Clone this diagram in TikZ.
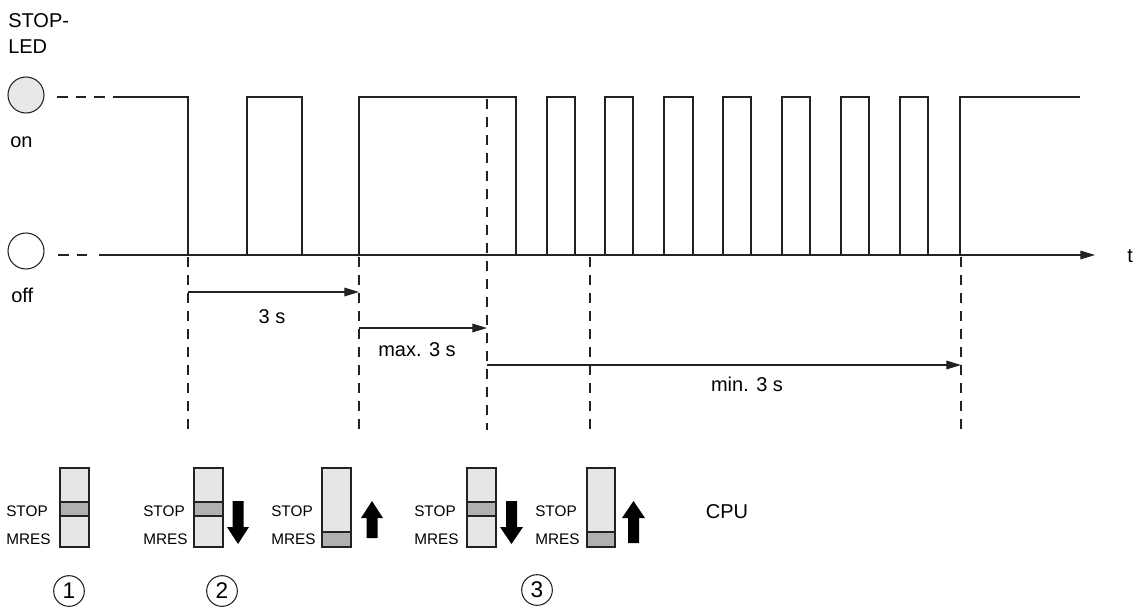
\documentclass[tikz,border=0pt]{standalone}
\usepackage{fontspec}
\setmainfont{Liberation Sans}
\usetikzlibrary{arrows.meta}
\definecolor{ln}{HTML}{222222}
\definecolor{swfill}{HTML}{E6E6E6}
\definecolor{band}{HTML}{B0B0B0}
\definecolor{ledon}{HTML}{E8E8E8}
\tikzset{
  sig/.style={draw=ln, line width=0.9pt},
  guide/.style={draw=ln, line width=0.9pt, dash pattern=on 7.5pt off 6pt},
  lead/.style={draw=ln, line width=0.9pt, dash pattern=on 8pt off 6pt},
  tarrow/.style={draw=ln, line width=0.9pt, -{Triangle[length=11pt,width=6.5pt]}},
  big/.style={font=\fontsize{15}{18}\selectfont, inner sep=0pt},
  small/.style={font=\fontsize{11.5}{14}\selectfont, inner sep=0pt},
  led/.style={circle, draw=ln, line width=0.8pt, minimum size=27pt, inner sep=0pt},
  swbody/.style={draw=ln, line width=0.8pt, fill=swfill},
  swband/.style={draw=ln, line width=0.8pt, fill=band},
  blockarrow/.style={fill=black},
  numc/.style={circle, draw=ln, line width=0.8pt, minimum size=23pt, inner sep=0pt, font=\fontsize{17}{20}\selectfont}
}
\begin{document}
\begin{tikzpicture}[x=0.75pt,y=-0.75pt]
\useasboundingbox (0,0) rectangle (1139,608);
% labels left
\node[big, anchor=base west] (stopled1) at (8,27) {STOP-};
\node[big, anchor=base west] (stopled2) at (8,53) {LED};
\node[big, anchor=base west] (onlbl) at (10,147) {on};
\node[big, anchor=base west] (offlbl) at (11,302) {off};
% LEDs
\node[led, fill=ledon] (ledon) at (26,95) {};
\node[led, fill=white] (ledoff) at (26,251) {};
% lead dashes
\draw[lead] (57,97) -- (113,97);
\draw[lead] (58,255) -- (92,255);
% time axis
\coordinate (ax0) at (99,255);
\coordinate (ax1) at (1095,255);
\draw[tarrow] (ax0) -- (ax1);
\node[big, anchor=base west] (tlbl) at (1127,262) {t};
% signal
\draw[sig] (113,97) -- (188,97) -- (188,255)
  (247,255) -- (247,97) -- (302,97) -- (302,255)
  (359,255) -- (359,97) -- (516,97) -- (516,255);
\foreach \a/\b in {547/575,605/633,664/693,723/751,782/810,841/869,900/928}{
  \draw[sig] (\a,255) -- (\a,97) -- (\b,97) -- (\b,255);
}
\draw[sig] (960,255) -- (960,97) -- (1080,97);
% dashed guides
\draw[guide] (188,257) -- (188,430);
\draw[guide] (359,257) -- (359,430);
\draw[guide] (487,99) -- (487,430);
\draw[guide] (590,257) -- (590,430);
\draw[guide] (961,257) -- (961,430);
% time spans
\coordinate (a1) at (188,292); \coordinate (b1) at (359,292);
\coordinate (a2) at (359,328); \coordinate (b2) at (487,328);
\coordinate (a3) at (487,365); \coordinate (b3) at (961,365);
\draw[tarrow] (a1) -- (b1);
\draw[tarrow] (a2) -- (b2);
\draw[tarrow] (a3) -- (b3);
\node[big, anchor=base] (l1) at (272,323) {3 s};
\node[big, anchor=base] (l2) at (417,356) {max. 3 s};
\node[big, anchor=base] (l3) at (747,391) {min. 3 s};
% switches
% S1
\node[small, anchor=base west] (s1t) at (6,516.5) {STOP};
\node[small, anchor=base west] (s1m) at (6,544.5) {MRES};
\draw[swbody] (60,468) rectangle (89,547);
\draw[swband] (60,502) rectangle (89,516);
% S2
\node[small, anchor=base west] (s2t) at (143,516.5) {STOP};
\node[small, anchor=base west] (s2m) at (143,544.5) {MRES};
\draw[swbody] (194,468) rectangle (223,547);
\draw[swband] (194,502) rectangle (223,516);
\fill[blockarrow] (232.5,501) -- (243.5,501) -- (243.5,527) -- (249,527) -- (238,544) -- (227,527) -- (232.5,527) -- cycle;
% S3
\node[small, anchor=base west] (s3t) at (271,516.5) {STOP};
\node[small, anchor=base west] (s3m) at (271,544.5) {MRES};
\draw[swbody] (322,468) rectangle (351,547);
\draw[swband] (322,532) rectangle (351,547);
\fill[blockarrow] (366.5,538) -- (377.5,538) -- (377.5,518) -- (383,518) -- (372,501) -- (361,518) -- (366.5,518) -- cycle;
% S4
\node[small, anchor=base west] (s4t) at (414,516.5) {STOP};
\node[small, anchor=base west] (s4m) at (414,544.5) {MRES};
\draw[swbody] (467,468) rectangle (496,547);
\draw[swband] (467,502) rectangle (496,516);
\fill[blockarrow] (506,501) -- (517,501) -- (517,527) -- (523,527) -- (511.5,544) -- (500,527) -- (506,527) -- cycle;
% S5
\node[small, anchor=base west] (s5t) at (535,516.5) {STOP};
\node[small, anchor=base west] (s5m) at (535,544.5) {MRES};
\draw[swbody] (587,468) rectangle (615,547);
\draw[swband] (587,532) rectangle (615,547);
\fill[blockarrow] (628,543) -- (639,543) -- (639,518) -- (645,518) -- (633.5,501) -- (622,518) -- (628,518) -- cycle;
% CPU
\node[big, anchor=base] (cpu) at (727,518) {CPU};
% circled numbers
\node[numc] (n1) at (69,591) {1};
\node[numc] (n2) at (222,591) {2};
\node[numc] (n3) at (537,590) {3};
\end{tikzpicture}
\end{document}
